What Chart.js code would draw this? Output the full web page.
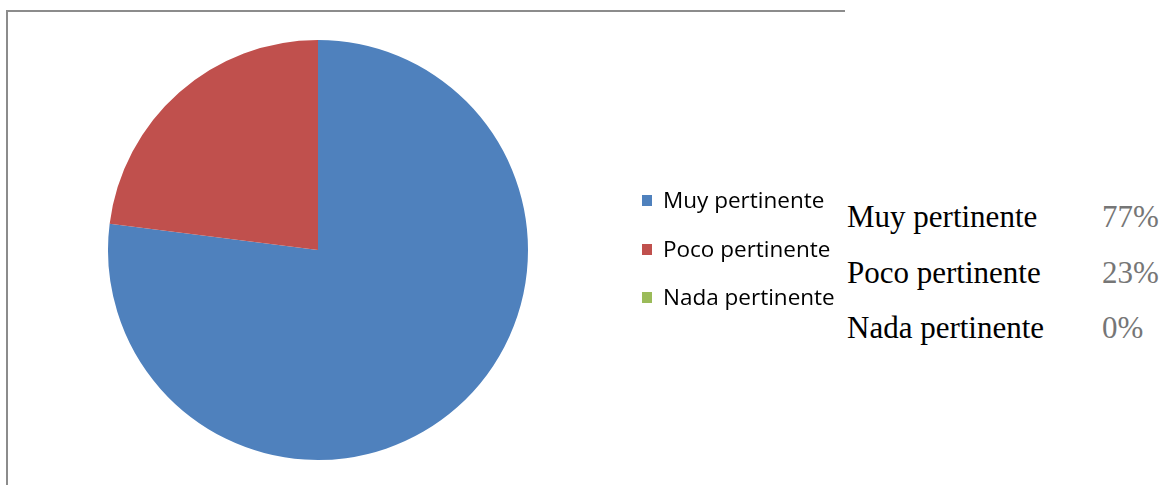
<!DOCTYPE html>
<html>
<head>
<meta charset="utf-8">
<script src="https://cdn.jsdelivr.net/npm/chart.js@4/dist/chart.umd.min.js"></script>
<style>
  html, body { margin: 0; padding: 0; background: #fff; }
  body { width: 1161px; height: 485px; position: relative; overflow: hidden; }
  #frame {
    position: absolute; left: 6px; top: 10px; width: 837px; height: 480px;
    border-left: 2px solid #8c8c8c; border-top: 2px solid #8c8c8c;
  }
  #pie { position: absolute; left: 8px; top: 11px; }
  #legend { position: absolute; left: 642px; top: 186px; font-family: "Open Sans", sans-serif; font-size: 22.5px; color: #000; }
  .leg-row { position: relative; height: 48.5px; }
  .leg-box { position: absolute; left: 0; top: 9px; width: 10px; height: 11px; }
  .leg-text { position: absolute; left: 21px; top: -1px; line-height: 30px; white-space: nowrap; }
  #table { position: absolute; left: 847px; top: 197px; font-family: "Liberation Serif", "Times New Roman", serif; font-size: 31px; }
  .tab-row { position: relative; height: 55.5px; }
  .tab-name { position: absolute; left: 0; top: 0; color: #000; white-space: nowrap; line-height: 40px; }
  .tab-val { position: absolute; left: 255px; top: 0; color: #767676; line-height: 40px; }
</style>
</head>
<body>
<div id="frame"></div>
<canvas id="pie" width="835" height="474"></canvas>
<div id="legend"></div>
<div id="table"></div>
<script>
// --- Data ---
const categories = ["Muy pertinente", "Poco pertinente", "Nada pertinente"];
const values = [77, 23, 0];
const valueLabels = ["77%", "23%", "0%"];
const colors = ["#4f81bd", "#c0504d", "#9bbb59"];

function $(id) {
  return document.getElementById(id);
}

// --- Pie ---
new Chart($("pie").getContext("2d"), {
  type: "pie",
  data: {
    labels: categories,
    datasets: [{
      data: values,
      backgroundColor: colors,
      borderWidth: 0
    }]
  },
  options: {
    responsive: false,
    animation: false,
    layout: { padding: { left: 100, top: 29, right: 315, bottom: 25 } },
    plugins: {
      legend: { display: false },
      tooltip: { enabled: false }
    }
  }
});

// --- Legend (built from the same arrays) ---
categories.forEach((name, i) => {
  const row = document.createElement("div");
  row.className = "leg-row";
  row.innerHTML = `<div class="leg-box" style="background:${colors[i]}"></div><div class="leg-text">${name}</div>`;
  $("legend").appendChild(row);
});

// --- Side table ---
categories.forEach((name, i) => {
  const row = document.createElement("div");
  row.className = "tab-row";
  row.innerHTML = `<span class="tab-name">${name}</span><span class="tab-val">${valueLabels[i]}</span>`;
  $("table").appendChild(row);
});
</script>
</body>
</html>
